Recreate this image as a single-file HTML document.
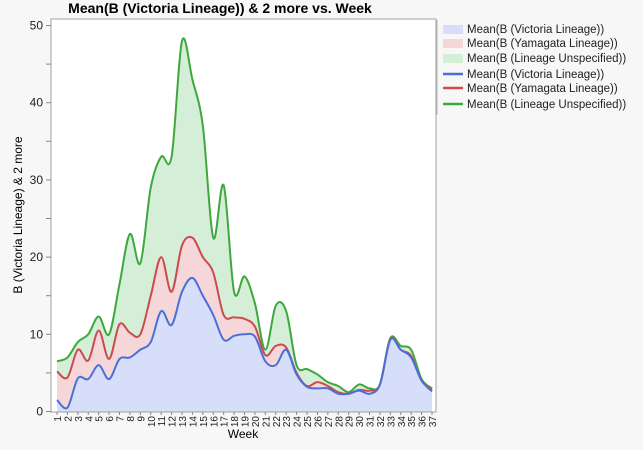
<!DOCTYPE html>
<html><head><meta charset="utf-8"><style>
body{margin:0;background:#f7f7f7;width:643px;height:445px;overflow:hidden;font-family:"Liberation Sans",sans-serif}
</style></head><body>
<svg id="s" width="643" height="445" xmlns="http://www.w3.org/2000/svg" font-family="Liberation Sans, sans-serif">
<rect x="51" y="19" width="385" height="393" fill="#fff" stroke="#a0a0a0"/>
<text x="220" y="13" text-anchor="middle" font-size="14" font-weight="bold">Mean(B (Victoria Lineage)) &amp; 2 more vs. Week</text>
<g id="plot"></g>
<g id="ax" font-size="12" fill="#222"></g>
<text x="243" y="438" text-anchor="middle" font-size="12">Week</text>
<text transform="translate(22,215) rotate(-90)" text-anchor="middle" font-size="12">B (Victoria Lineage) &amp; 2 more</text>
<line x1="437" y1="20" x2="437" y2="115" stroke="#bbb"/>
<g font-size="11.5" fill="#222">
<rect x="443" y="25" width="20" height="9" fill="#d6defa"/><text x="467" y="33">Mean(B (Victoria Lineage))</text>
<rect x="443" y="39" width="20" height="9" fill="#f5d7da"/><text x="467" y="47">Mean(B (Yamagata Lineage))</text>
<rect x="443" y="54" width="20" height="9" fill="#d5eed7"/><text x="467" y="62">Mean(B (Lineage Unspecified))</text>
<line x1="443" y1="74" x2="463" y2="74" stroke="#4a6fd8" stroke-width="2.5"/><text x="467" y="78">Mean(B (Victoria Lineage))</text>
<line x1="443" y1="88" x2="463" y2="88" stroke="#cc4a4e" stroke-width="2.5"/><text x="467" y="92">Mean(B (Yamagata Lineage))</text>
<line x1="443" y1="104" x2="463" y2="104" stroke="#3ea83e" stroke-width="2.5"/><text x="467" y="108">Mean(B (Lineage Unspecified))</text>
</g>
</svg>
<script>
var B=[1.5,0.5,4.3,4.2,6,4.2,6.8,7,8,9,13,11.2,15.5,17.3,15,12.5,9.3,9.8,10,9.7,6.5,6,8,4.8,3.2,3,3,2.3,2.3,2.7,2.3,3.5,9.3,8,7,4,2.6];
var R=[5.2,4.4,8,6.6,10.5,6.8,11.3,10.2,10,15,20,15.5,21.5,22.5,20,18,12.5,12.2,12,11,7.3,8.5,8.3,5,3.3,3.8,3.3,2.5,2.3,2.8,2.7,3.5,9.4,8,7.2,4,2.8];
var G=[6.5,7,9,10,12.3,10,16.5,23,19.2,29,33,33,48,43,37,22.5,29.3,15.5,17.5,14,8,13.7,13,6,5.5,4.8,3.8,3.3,2.5,3.5,3,3.5,9.5,8.5,8,4.2,3];
function X(i){return 57+i*375/36}function Y(v){return 411.5-v*7.72}
function path(d){var p=d.map(function(v,i){return[X(i),Y(v)]});var s="M"+p[0][0]+","+p[0][1];
for(var i=0;i<p.length-1;i++){var a=p[Math.max(0,i-1)],b=p[i],c=p[i+1],e=p[Math.min(p.length-1,i+2)];
s+=" C"+(b[0]+(c[0]-a[0])/6)+","+(b[1]+(c[1]-a[1])/6)+" "+(c[0]-(e[0]-b[0])/6)+","+(c[1]-(e[1]-b[1])/6)+" "+c[0]+","+c[1];}return s;}
var g=document.getElementById("plot"),h="";
var base=" L"+X(36)+",411.5 L"+X(0)+",411.5 Z";
h+='<path d="'+path(G)+base+'" fill="#d5eed7"/>';
h+='<path d="'+path(R)+base+'" fill="#f5d7da"/>';
h+='<path d="'+path(B)+base+'" fill="#d6defa"/>';
h+='<path d="'+path(G)+'" fill="none" stroke="#3ea83e" stroke-width="2"/>';
h+='<path d="'+path(R)+'" fill="none" stroke="#cc4a4e" stroke-width="2"/>';
h+='<path d="'+path(B)+'" fill="none" stroke="#4a6fd8" stroke-width="2"/>';
g.innerHTML=h;
var a="";for(var v=0;v<=50;v+=5){var y=Y(v);a+='<line x1="46" x2="51" y1="'+y+'" y2="'+y+'" stroke="#888"/>';if(v%10==0)a+='<text x="43" y="'+(y+4)+'" text-anchor="end">'+v+'</text>';}
for(var i=0;i<37;i++){var x=X(i);a+='<line x1="'+x+'" x2="'+x+'" y1="412" y2="415" stroke="#888"/><text font-size="10" transform="translate('+(x+4)+',416) rotate(-90)" text-anchor="end">'+(i+1)+'</text>';}
document.getElementById("ax").innerHTML=a;
</script>
</body></html>
